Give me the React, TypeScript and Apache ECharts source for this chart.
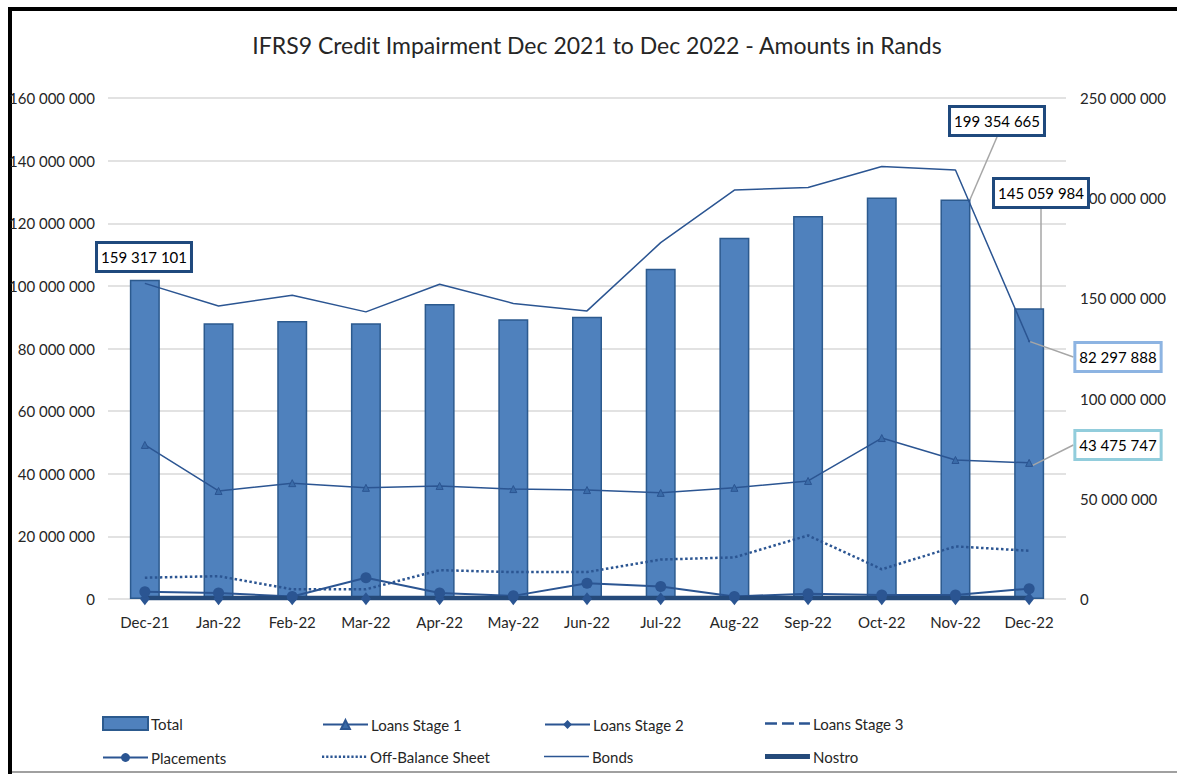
import React, { useEffect, useRef } from "react";
import * as echarts from "echarts";

const categories = ["Dec-21", "Jan-22", "Feb-22", "Mar-22", "Apr-22", "May-22", "Jun-22", "Jul-22", "Aug-22", "Sep-22", "Oct-22", "Nov-22", "Dec-22"];
const total = [159317101, 137600000, 138700000, 137600000, 147200000, 139600000, 140900000, 164800000, 180300000, 191100000, 200300000, 199354665, 145059984];
const loansStage1 = [49200000, 34500000, 37000000, 35500000, 36100000, 35100000, 34800000, 33900000, 35500000, 37700000, 51400000, 44400000, 43475747];
const loansStage2 = [100000, 100000, 100000, 100000, 100000, 100000, 100000, 100000, 100000, 100000, 100000, 100000, 100000];
const loansStage3 = [50000, 50000, 50000, 50000, 50000, 50000, 50000, 50000, 50000, 50000, 50000, 50000, 50000];
const placements = [2300000, 1900000, 800000, 6800000, 1900000, 1000000, 5000000, 4000000, 800000, 1700000, 1300000, 1300000, 3300000];
const offBalance = [6800000, 7300000, 3100000, 3100000, 9200000, 8600000, 8600000, 12600000, 13300000, 20300000, 9500000, 16800000, 15400000];
const bonds = [100800000, 93600000, 97000000, 91700000, 100500000, 94400000, 92000000, 113800000, 130600000, 131400000, 138100000, 137000000, 82297888];
const nostro = [300000, 300000, 300000, 300000, 300000, 300000, 300000, 300000, 300000, 300000, 300000, 300000, 300000];

const leftTicks = { min: 0, max: 160000000, interval: 20000000 };
const rightTicks = { min: 0, max: 250000000, interval: 50000000 };

const TITLE = "IFRS9 Credit Impairment Dec 2021 to Dec 2022 - Amounts in Rands";
const FONT = "Lato, sans-serif";
const LINE = "#2B5592";
const TXT = "#262626";

const fmt = (v: number) => String(Math.round(v)).replace(/\B(?=(\d{3})+(?!\d))/g, " ");

// annotation box layout, keyed by category
const totalLabelAt: Record<string, number[]> = { "Dec-21": [144, 257], "Nov-22": [997, 121], "Dec-22": [1041, 193] };
const bondsLabelAt: Record<string, number[]> = { "Dec-22": [1118, 357] };
const stage1LabelAt: Record<string, number[]> = { "Dec-22": [1118, 445] };

const boxStyle = (border: string) => ({
  fontSize: 15,
  fontFamily: FONT,
  color: "#000",
  backgroundColor: "#fff",
  borderColor: border,
  borderWidth: 3,
  padding: [6, 3, 5, 3],
  formatter: (p: any) => fmt(p.value),
});

const layoutFrom = (map: Record<string, number[]>) => (params: any) => {
  const p = map[categories[params.dataIndex]];
  if (!p) return {};
  return { x: p[0], y: p[1], align: "center", verticalAlign: "middle" };
};

const guide = { show: true, lineStyle: { color: "#A6A6A6", width: 1.5 } };

// legend icon shapes (45 x 12 box)
const iconPath = (rects: number[][]) =>
  "path://M0,0L0,0.01M45,12L45,12.01" +
  rects.map(([x, y, w, h]) => `M${x},${y}L${x + w},${y}L${x + w},${y + h}L${x},${y + h}Z`).join("");
const dots: number[][] = [];
for (let i = 0; i < 11; i++) dots.push([i * 4.2, 5, 2.2, 2.5]);
const legendIcons: Record<string, string> = {
  Total: "rect",
  "Loans Stage 3": iconPath([[0, 4.75, 12, 2.5], [17, 4.75, 12, 2.5], [34, 4.75, 11, 2.5]]),
  "Off-Balance Sheet": iconPath(dots),
  Bonds: iconPath([[0, 5.25, 45, 1.6]]),
  Nostro: iconPath([[0, 3.5, 45, 5]]),
};

export default function App() {
  const ref = useRef<HTMLDivElement>(null);
  useEffect(() => {
    if (!ref.current) return;
    const chart = echarts.init(ref.current, undefined, { renderer: "svg" });

    const totalData = total.map((v, i) => {
      const c = categories[i];
      if (!totalLabelAt[c]) return v;
      return c === "Dec-21"
        ? { value: v, label: { show: true }, labelLine: { show: false } }
        : { value: v, label: { show: true } };
    });
    const bondsData = bonds.map((v, i) =>
      bondsLabelAt[categories[i]] ? { value: v, symbol: "circle", symbolSize: 2, label: { show: true } } : v
    );
    const stage1Data = loansStage1.map((v, i) => (stage1LabelAt[categories[i]] ? { value: v, label: { show: true } } : v));

    const legendCols = [102, 322, 544, 765];
    const legendRows = [716, 749];
    const legendNames = [
      ["Total", "Loans Stage 1", "Loans Stage 2", "Loans Stage 3"],
      ["Placements", "Off-Balance Sheet", "Bonds", "Nostro"],
    ];
    const legends: any[] = [];
    legendNames.forEach((row, r) =>
      row.forEach((name, c) => {
        const hasIcon = !!legendIcons[name];
        legends.push({
          data: [hasIcon ? { name, icon: legendIcons[name] } : name],
          left: legendCols[c],
          top: legendRows[r] + (hasIcon ? 0 : 1),
          padding: 0,
          itemWidth: 45,
          itemHeight: name === "Total" ? 13 : hasIcon ? 12 : 11,
          itemGap: 0,
          selectedMode: false,
          textStyle: { fontSize: 15, color: TXT, fontFamily: FONT, padding: [0, 0, 0, -2] },
        });
      })
    );

    chart.setOption({
      animation: false,
      textStyle: { fontFamily: FONT },
      title: {
        text: TITLE,
        left: 597,
        top: 33,
        padding: 0,
        textAlign: "center",
        textStyle: { fontSize: 23, fontWeight: "normal", color: TXT, fontFamily: FONT },
      },
      graphic: [
        { type: "line", shape: { x1: 8, y1: 9, x2: 1177, y2: 9 }, style: { stroke: "#000", lineWidth: 4 } },
        { type: "line", shape: { x1: 10, y1: 7, x2: 10, y2: 774 }, style: { stroke: "#000", lineWidth: 4 } },
        { type: "line", shape: { x1: 12, y1: 772, x2: 1177, y2: 772 }, style: { stroke: "#A0A0A0", lineWidth: 2 } },
      ],
      grid: { left: 108, right: 111, top: 98, bottom: 175 },
      xAxis: {
        type: "category",
        data: categories,
        axisLine: { show: false },
        axisTick: { show: false },
        axisLabel: { interval: 0, fontSize: 15, color: TXT, margin: 15, fontFamily: FONT },
      },
      yAxis: [
        {
          type: "value",
          ...leftTicks,
          position: "left",
          axisLine: { show: false },
          axisTick: { show: false },
          axisLabel: { formatter: fmt, fontSize: 15, color: TXT, margin: 13, fontFamily: FONT },
          splitLine: { lineStyle: { color: "#D9D9D9", width: 1.5 } },
        },
        {
          type: "value",
          ...rightTicks,
          position: "right",
          axisLine: { show: false },
          axisTick: { show: false },
          axisLabel: { formatter: fmt, fontSize: 15, color: TXT, margin: 14, fontFamily: FONT },
          splitLine: { show: false },
        },
      ],
      legend: legends,
      series: [
        {
          name: "Total",
          type: "bar",
          yAxisIndex: 1,
          barWidth: 30,
          itemStyle: { color: "#4F81BD", borderColor: "#2C5A8E", borderWidth: 1.5 },
          data: totalData,
          label: { show: false, ...boxStyle("#1F497D") },
          labelLine: guide,
          labelLayout: layoutFrom(totalLabelAt),
        },
        {
          name: "Loans Stage 1",
          type: "line",
          yAxisIndex: 0,
          symbol: "triangle",
          symbolSize: 7,
          itemStyle: { color: "#3A6BA8", borderColor: LINE, borderWidth: 1 },
          lineStyle: { color: LINE, width: 1.5 },
          data: stage1Data,
          label: { show: false, ...boxStyle("#92CDDC") },
          labelLine: guide,
          labelLayout: layoutFrom(stage1LabelAt),
        },
        {
          name: "Loans Stage 2",
          type: "line",
          symbol: "diamond",
          symbolSize: [10, 13],
          itemStyle: { color: LINE },
          lineStyle: { color: LINE, width: 2 },
          data: loansStage2,
        },
        {
          name: "Loans Stage 3",
          type: "line",
          symbol: "none",
          itemStyle: { color: LINE },
          lineStyle: { color: LINE, width: 2.5, type: "dashed" },
          data: loansStage3,
        },
        {
          name: "Placements",
          type: "line",
          symbol: "circle",
          symbolSize: 11,
          itemStyle: { color: LINE },
          lineStyle: { color: LINE, width: 2 },
          data: placements,
        },
        {
          name: "Off-Balance Sheet",
          type: "line",
          symbol: "none",
          itemStyle: { color: LINE },
          lineStyle: { color: LINE, width: 2.5, type: [2.5, 2.5] },
          data: offBalance,
        },
        {
          name: "Bonds",
          type: "line",
          symbol: "none",
          itemStyle: { color: LINE },
          lineStyle: { color: LINE, width: 1.5 },
          data: bondsData,
          label: { show: false, ...boxStyle("#8DB4E2") },
          labelLine: guide,
          labelLayout: layoutFrom(bondsLabelAt),
        },
        {
          name: "Nostro",
          type: "line",
          symbol: "none",
          itemStyle: { color: "#254A7A" },
          lineStyle: { color: "#254A7A", width: 4.5 },
          data: nostro,
        },
      ],
    });
    return () => chart.dispose();
  }, []);

  return (
    <div
      ref={ref}
      style={{ position: "fixed", left: 0, top: 0, width: 1177, height: 774, background: "#fff" }}
    />
  );
}
